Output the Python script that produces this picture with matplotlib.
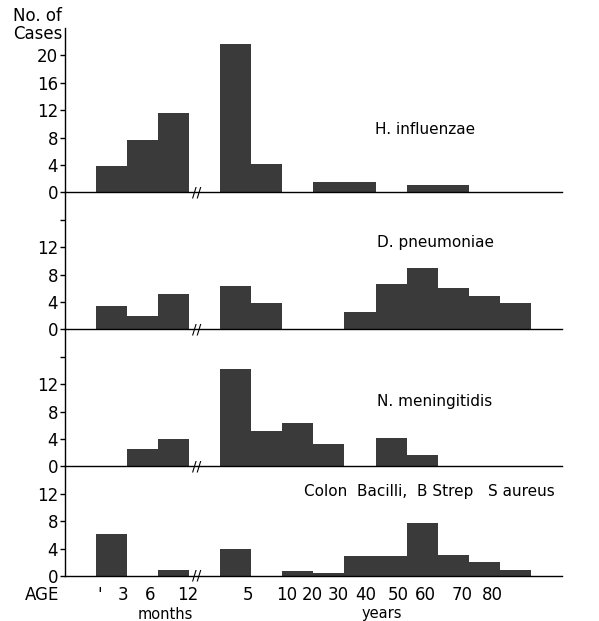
import numpy as np
import matplotlib.pyplot as plt

# age groups: three month bins, then year bins
age_groups = ["0-3 mo", "3-6 mo", "6-12 mo", "1-5", "5-10", "10-20", "20-30",
              "30-40", "40-50", "50-60", "60-70", "70-80", "80-90"]

h_influenzae = [3.8, 7.7, 11.6, 21.7, 4.1, 0, 1.5, 1.5, 0, 1.1, 1.1, 0, 0]
d_pneumoniae = [3.4, 1.9, 5.1, 6.4, 3.9, 0, 0, 2.6, 6.6, 9.0, 6.0, 4.9, 3.9]
n_meningitidis = [0, 2.5, 4.0, 14.2, 5.2, 6.4, 3.2, 0, 4.2, 1.6, 0, 0, 0]
colon_strep_aureus = [6.2, 0, 0.9, 4.0, 0, 0.7, 0.5, 2.9, 2.9, 7.8, 3.0, 2.0, 0.8]

organisms = ["H. influenzae", "D. pneumoniae", "N. meningitidis",
             "Colon  Bacilli,  B Strep   S aureus"]

age_tick_labels = ["'", "3", "6", "12", "5", "10", "20", "30", "40", "50",
                   "60", "70", "80"]

# layout
age_tick_pos = [1.13, 1.87, 2.74, 3.96, 5.89, 7.15, 7.95, 8.79, 9.69, 10.72,
                11.59, 12.78, 13.75]
label_pos = [(9.98, 9.2), (10.04, 12.7), (10.04, 9.5), (7.7, 12.3)]
panel_top = [24, 20, 20, 16]
panel_ticks = [[0, 4, 8, 12, 16, 20], [0, 4, 8, 12, 16], [0, 4, 8, 12, 16], [0, 4, 8, 12]]
panel_ticklabels = [["0", "4", "8", "12", "16", "20"],
                    ["0", "4", "8", "12", ""],
                    ["0", "4", "8", "12", ""],
                    ["0", "4", "8", "12"]]
bar_color = "#3a3a3a"

idx = np.arange(len(age_groups))
x = idx + 1 + (idx >= 3)  # leave an empty slot for the axis break

fig = plt.figure(figsize=(5.99, 6.21), dpi=100)
gs = fig.add_gridspec(4, 1, height_ratios=panel_top, hspace=0,
                      left=0.1085, right=0.938, top=0.955, bottom=0.0725)

series = [h_influenzae, d_pneumoniae, n_meningitidis, colon_strep_aureus]

for i, vals in enumerate(series):
    ax = fig.add_subplot(gs[i])
    ax.patch.set_visible(False)
    ax.set_zorder(10 - i)
    ax.bar(x, vals, width=1, align="edge", color=bar_color, linewidth=0)
    ax.set_xlim(0, 16)
    ax.set_ylim(0, panel_top[i])
    ax.spines["top"].set_visible(False)
    ax.spines["right"].set_visible(False)
    ax.spines["left"].set_linewidth(1.0)
    ax.spines["bottom"].set_linewidth(1.0)
    ax.set_yticks(panel_ticks[i])
    ax.set_yticklabels(panel_ticklabels[i])
    ax.tick_params(axis="y", direction="out", length=3.5, width=1.0,
                   pad=1.5, labelsize=12)
    ax.text(label_pos[i][0], label_pos[i][1], organisms[i], fontsize=11,
            ha="left", va="center")
    ax.text(4.25, 0, "//", fontsize=10, ha="center", va="center")
    if i == 3:
        ax.set_xticks(age_tick_pos)
        ax.set_xticklabels(age_tick_labels)
        ax.tick_params(axis="x", length=0, pad=7, labelsize=12)
    else:
        ax.set_xticks([])

fig.text(0.0217, 0.9887, "No. of\nCases", fontsize=12, ha="left", va="top",
         linespacing=1.0)
fig.text(0.070, 0.0415, "AGE", fontsize=12, ha="center", va="center")
fig.text(0.2755, 0.0105, "months", fontsize=10.5, ha="center", va="center")
fig.text(0.6377, 0.0115, "years", fontsize=10.5, ha="center", va="center")

fig.savefig("out.png", dpi=100, facecolor="white")
